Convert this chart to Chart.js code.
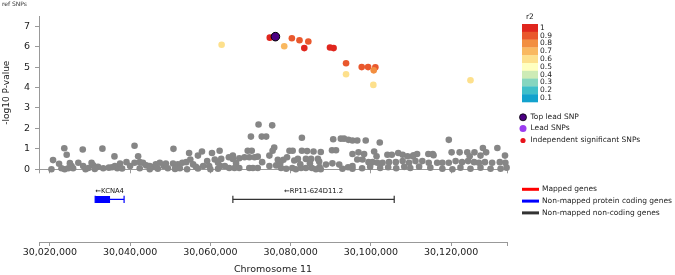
<!DOCTYPE html>
<html>
<head>
<meta charset="utf-8">
<script src="https://cdn.jsdelivr.net/npm/chart.js@4.4.1/dist/chart.umd.min.js"></script>
<style>
  body { margin: 0; background: #fff; }
  #wrap { position: relative; width: 675px; height: 275px; }
  canvas { position: absolute; left: 0; }
</style>
</head>
<body>
<div id="wrap">
  <canvas id="snpPlot" width="675" height="180" style="top:0"></canvas>
  <canvas id="genePlot" width="675" height="95" style="top:180px"></canvas>
</div>
<script>
// positions in kb on chromosome 11, values are -log10 P
const grayPosKb = [
  30020.4, 30020.8, 30022.3, 30022.9, 30023.6, 30024.2, 30023.7, 30024.6, 30025.4, 30025.8,
  30027.1, 30028.2, 30028.3, 30028.9, 30029.6, 30030.4, 30030.8, 30033.1, 30033.3, 30034.7,
  30036.1, 30036.2, 30036.8, 30039.1, 30040.0, 30041.1, 30042.0, 30041.1, 30042.4, 30043.2,
  30044.0, 30044.9, 30045.9, 30047.4, 30048.4, 30049.4, 30050.8, 30050.7, 30051.9, 30053.0,
  30054.0, 30054.2, 30054.7, 30055.0, 30055.7, 30056.9, 30057.9, 30058.2, 30059.2, 30059.7,
  30060.4, 30060.0, 30061.1, 30061.9, 30062.3, 30062.7, 30062.5, 30063.6, 30046.4, 30048.9,
  30051.4, 30056.4, 30044.9, 30052.4, 30037.5, 30032.0, 30025.0, 30072.0, 30075.4, 30070.1,
  30072.8, 30073.9, 30082.8, 30075.9, 30075.5, 30069.3, 30070.3, 30079.7, 30080.5, 30082.8,
  30084.1, 30085.7, 30064.6, 30065.6, 30065.6, 30067.2, 30068.5, 30069.7, 30071.0, 30071.8,
  30074.7, 30076.8, 30078.2, 30079.1, 30080.9, 30081.8, 30083.8, 30085.1, 30086.8, 30064.7,
  30066.0, 30067.2, 30069.7, 30070.6, 30071.8, 30074.7, 30076.4, 30077.6, 30078.9, 30080.4,
  30081.3, 30082.6, 30083.8, 30085.3, 30086.3, 30087.2, 30087.5, 30090.6, 30092.5, 30093.3,
  30094.4, 30095.4, 30096.6, 30098.7, 30102.2, 30090.3, 30091.3, 30095.4, 30096.9, 30098.3,
  30100.8, 30101.4, 30104.1, 30105.2, 30106.8, 30107.9, 30109.1, 30110.4, 30087.1, 30088.8,
  30090.4, 30092.1, 30095.4, 30096.6, 30097.9, 30099.4, 30100.4, 30101.6, 30102.9, 30104.5,
  30106.2, 30107.9, 30109.5, 30095.4, 30087.5, 30092.9, 30094.3, 30097.8, 30099.8, 30102.3,
  30104.3, 30106.3, 30108.3, 30109.8, 30119.4, 30120.1, 30122.1, 30124.0, 30124.6, 30125.8,
  30127.3, 30127.9, 30128.7, 30131.5, 30133.4, 30111.5, 30114.3, 30115.4, 30111.1, 30112.8,
  30114.4, 30116.5, 30117.8, 30119.4, 30121.1, 30122.7, 30124.2, 30125.7, 30126.9, 30128.4,
  30130.2, 30132.1, 30133.5, 30112.0, 30114.8, 30117.8, 30120.3, 30122.3, 30124.8, 30127.3,
  30129.8, 30132.3, 30133.8, 30115.6, 30110.6, 30042.4, 30046.9, 30051.2, 30056.9, 30061.9,
  30031.2, 30035.5, 30038.0, 30066.4, 30072.9, 30077.4, 30082.4, 30084.8
];
const grayLogP = [
  0.00, 0.45, 0.27, 0.05, 1.03, 0.71, 0.00, 0.05, 0.16, 0.05,
  0.32, 0.97, 0.16, 0.00, 0.06, 0.32, 0.20, 1.01, 0.05, 0.08,
  0.63, 0.16, 0.05, 0.35, 0.16, 1.15, 0.64, 0.32, 0.35, 0.32,
  0.19, 0.16, 0.11, 0.32, 0.16, 0.05, 1.00, 0.28, 0.24, 0.32,
  0.35, 0.00, 0.80, 0.48, 0.24, 0.67, 0.87, 0.16, 0.40, 0.16,
  0.80, 0.00, 0.48, 0.32, 0.91, 0.51, 0.16, 0.16, 0.25, 0.28,
  0.10, 0.12, 0.00, 0.05, 0.28, 0.12, 0.30, 2.19, 2.15, 1.60,
  1.60, 1.60, 1.54, 1.07, 0.91, 0.91, 0.91, 0.91, 0.91, 0.91,
  0.89, 0.87, 0.59, 0.67, 0.51, 0.54, 0.59, 0.59, 0.59, 0.62,
  0.67, 0.47, 0.47, 0.59, 0.43, 0.51, 0.51, 0.51, 0.51, 0.06,
  0.06, 0.06, 0.06, 0.06, 0.06, 0.16, 0.19, 0.06, 0.03, 0.06,
  0.00, 0.06, 0.06, 0.06, 0.00, 0.11, 0.85, 1.47, 1.50, 1.50,
  1.44, 1.41, 1.41, 1.41, 1.31, 0.93, 0.93, 0.75, 0.83, 0.75,
  0.87, 0.64, 0.71, 0.71, 0.80, 0.71, 0.64, 0.64, 0.38, 0.23,
  0.29, 0.23, 0.16, 0.48, 0.48, 0.35, 0.35, 0.32, 0.32, 0.35,
  0.35, 0.40, 0.32, 0.03, 0.00, 0.03, 0.10, 0.05, 0.12, 0.06,
  0.10, 0.05, 0.12, 0.06, 1.44, 0.83, 0.83, 0.83, 0.64, 0.83,
  0.67, 1.04, 0.83, 1.04, 0.67, 0.75, 0.75, 0.75, 0.40, 0.40,
  0.32, 0.32, 0.32, 0.32, 0.40, 0.35, 0.40, 0.35, 0.32, 0.35,
  0.32, 0.35, 0.32, 0.13, 0.08, 0.03, 0.00, 0.08, 0.03, 0.08,
  0.03, 0.03, 0.08, 0.69, 0.69, 0.05, 0.03, 0.02, 0.04, 0.03,
  0.02, 0.10, 0.04, 0.30, 0.35, 0.30, 0.25, 0.30
];

// SNPs in LD with the lead SNP
const snpPosKb = [30062.8, 30074.8, 30080.3, 30082.2, 30084.4, 30083.4, 30078.4, 30089.8, 30090.7,
                  30093.8, 30093.8, 30097.7, 30099.3, 30101.1, 30100.7, 30100.6, 30124.8];
const snpLogP  = [6.09, 6.44, 6.41, 6.31, 6.25, 5.93, 6.02, 5.96, 5.93,
                  5.19, 4.65, 5.00, 5.00, 4.99, 4.84, 4.13, 4.36];
const snpR2    = [0.6, 1, 0.9, 0.9, 0.9, 1, 0.7, 1, 1,
                  0.9, 0.6, 0.9, 0.9, 0.9, 0.8, 0.6, 0.6];

const leadPosKb = [30076.2];
const leadLogP = [6.49];

const r2Levels = [1, 0.9, 0.8, 0.7, 0.6, 0.5, 0.4, 0.3, 0.2, 0.1];
const r2Colors = ['#e0261e', '#e9582d', '#f28e40', '#f9b860', '#fde08c',
                  '#ffffc0', '#cdebb6', '#86d6bf', '#3fbfc9', '#12a2cd'];

const xMinKb = 30017.3, xMaxKb = 30133.9;
const xTicksKb = [30020, 30040, 30060, 30080, 30100, 30120];
const yTicks = [0, 1, 2, 3, 4, 5, 6, 7];

const geneNames   = ['KCNA4', 'RP11-624D11.2'];
const geneStartKb = [30031.3, 30065.6];
const geneEndKb   = [30038.5, 30105.8];
const cdsStartKb  = [30031.3, null];
const cdsEndKb    = [30035.0, null];
const geneColors  = ['#0000ff', '#333333'];

const axisColor = '#999999';
const textColor = '#222222';
Chart.defaults.font.family = 'DejaVu Sans';
Chart.defaults.color = textColor;

const r2Color = r => r2Colors[Math.round((1 - r) * 10)];
const pts = (xs, ys) => xs.map((x, i) => ({x: x, y: ys[i]}));
const xTickList = () => [xMinKb].concat(xTicksKb, [xMaxKb]).map(v => ({value: v}));

const snpLegend = {
  id: 'snpLegend',
  afterDraw(chart) {
    const ctx = chart.ctx;
    ctx.save();
    ctx.fillStyle = '#333';
    ctx.font = '6px "DejaVu Sans"';
    ctx.textBaseline = 'middle';
    ctx.fillText('ref SNPs', 2, 4);

    ctx.font = '7.5px "DejaVu Sans"';
    ctx.fillStyle = textColor;
    ctx.fillText('r2', 526, 17);
    const cellH = 7.8;
    r2Levels.forEach((lv, i) => {
      ctx.fillStyle = r2Colors[i];
      ctx.fillRect(522, 24 + i * cellH, 16, cellH + 0.3);
      ctx.fillStyle = textColor;
      ctx.fillText(String(lv), 540, 24 + i * cellH + cellH / 2);
    });

    const items = [
      ['Top lead SNP', '#4b0082', 3.5, '#000'],
      ['Lead SNPs', '#9b3cf0', 3.5, null],
      ['Independent significant SNPs', '#e8131b', 2.6, null]
    ];
    const ys = [117.3, 128.5, 140.5];
    items.forEach((it, i) => {
      ctx.beginPath();
      ctx.arc(523, ys[i], it[2], 0, Math.PI * 2);
      ctx.fillStyle = it[1];
      ctx.fill();
      if (it[3]) { ctx.strokeStyle = it[3]; ctx.lineWidth = 0.8; ctx.stroke(); }
      ctx.fillStyle = textColor;
      ctx.fillText(it[0], 530.5, ys[i]);
    });
    ctx.restore();
  }
};

new Chart(document.getElementById('snpPlot'), {
  type: 'scatter',
  data: {
    datasets: [
      { data: pts(leadPosKb, leadLogP), backgroundColor: '#4b0082', borderColor: '#000',
        borderWidth: 1, pointRadius: 4.3, clip: false },
      { data: pts(snpPosKb, snpLogP), backgroundColor: snpR2.map(r2Color),
        borderWidth: 0, pointRadius: 3.3, clip: false },
      { data: pts(grayPosKb, grayLogP), backgroundColor: '#868686',
        borderWidth: 0, pointRadius: 3.3, clip: false }
    ]
  },
  options: {
    responsive: false,
    animation: false,
    events: [],
    layout: { padding: { left: 0, right: 168, top: 16, bottom: 4 } },
    plugins: { legend: { display: false }, tooltip: { enabled: false } },
    scales: {
      x: {
        type: 'linear', min: xMinKb, max: xMaxKb,
        afterBuildTicks: s => { s.ticks = xTickList(); },
        ticks: { display: false },
        grid: { drawOnChartArea: false, tickLength: 4, color: axisColor },
        border: { color: axisColor }
      },
      y: {
        min: 0, max: 7.5,
        afterBuildTicks: s => { s.ticks = yTicks.map(v => ({value: v})); },
        afterFit: s => { s.width = 39; },
        ticks: { font: { size: 9.5 }, color: textColor, padding: 5 },
        grid: { drawOnChartArea: false, tickLength: 4, color: axisColor },
        border: { color: axisColor },
        title: { display: true, text: '-log10 P-value', font: { size: 9 }, color: textColor,
                 padding: { top: 1, bottom: 0 } }
      }
    }
  },
  plugins: [snpLegend]
});

// gene track
const geneSets = [];
geneNames.forEach((g, i) => {
  if (cdsStartKb[i] !== null) {
    geneSets.push({ type: 'line', data: [{x: cdsStartKb[i], y: 0}, {x: cdsEndKb[i], y: 0}],
      borderColor: geneColors[i], borderWidth: 7, pointRadius: 0, borderCapStyle: 'butt' });
  }
  geneSets.push({ type: 'line', data: [{x: geneStartKb[i], y: 0}, {x: geneEndKb[i], y: 0}],
    borderColor: geneColors[i], borderWidth: 1.2, pointRadius: 0 });
  geneSets.push({ type: 'scatter', data: [{x: geneStartKb[i], y: 0}, {x: geneEndKb[i], y: 0}],
    pointStyle: 'line', rotation: 90, pointRadius: 3.6, borderColor: geneColors[i],
    borderWidth: 1.2, backgroundColor: geneColors[i] });
});

const geneLabels = {
  id: 'geneLabels',
  afterDraw(chart) {
    const ctx = chart.ctx, xs = chart.scales.x, ys = chart.scales.y;
    ctx.save();
    ctx.font = '6.8px "DejaVu Sans"';
    ctx.fillStyle = '#111';
    ctx.textAlign = 'center';
    ctx.textBaseline = 'middle';
    geneNames.forEach((g, i) => {
      const cx = (xs.getPixelForValue(geneStartKb[i]) + xs.getPixelForValue(geneEndKb[i])) / 2;
      ctx.fillText('\u2190' + g, cx, ys.getPixelForValue(0) - 7.8);
    });
    ctx.textAlign = 'left';
    ctx.font = '7.5px "DejaVu Sans"';
    const leg = [['Mapped genes', '#ff0000'], ['Non-mapped protein coding genes', '#0000ff'],
                 ['Non-mapped non-coding genes', '#333333']];
    leg.forEach((it, i) => {
      const y = 9.3 + i * 11.8;
      ctx.fillStyle = it[1];
      ctx.fillRect(522, y - 1.5, 17, 3);
      ctx.fillStyle = textColor;
      ctx.fillText(it[0], 542, y);
    });
    ctx.restore();
  }
};

new Chart(document.getElementById('genePlot'), {
  type: 'line',
  data: { datasets: geneSets },
  options: {
    responsive: false,
    animation: false,
    events: [],
    layout: { padding: { left: 39, right: 168, top: 0, bottom: 0 } },
    plugins: { legend: { display: false }, tooltip: { enabled: false } },
    scales: {
      x: {
        type: 'linear', min: xMinKb, max: xMaxKb,
        afterBuildTicks: s => { s.ticks = xTickList(); },
        afterFit: s => { s.height = 33; },
        ticks: {
          autoSkip: false, maxRotation: 0, padding: 1, font: { size: 9.5 }, color: textColor,
          callback: v => (v === xMinKb || v === xMaxKb) ? '' : Math.round(v * 1000).toLocaleString('en-US')
        },
        grid: { drawOnChartArea: false, tickLength: 4, color: axisColor },
        border: { color: axisColor },
        title: { display: true, text: 'Chromosome 11', font: { size: 9.5 }, color: textColor,
                 padding: { top: 0, bottom: 0 } }
      },
      y: { display: false, min: -3, max: 1 }
    }
  },
  plugins: [geneLabels]
});
</script>
</body>
</html>
